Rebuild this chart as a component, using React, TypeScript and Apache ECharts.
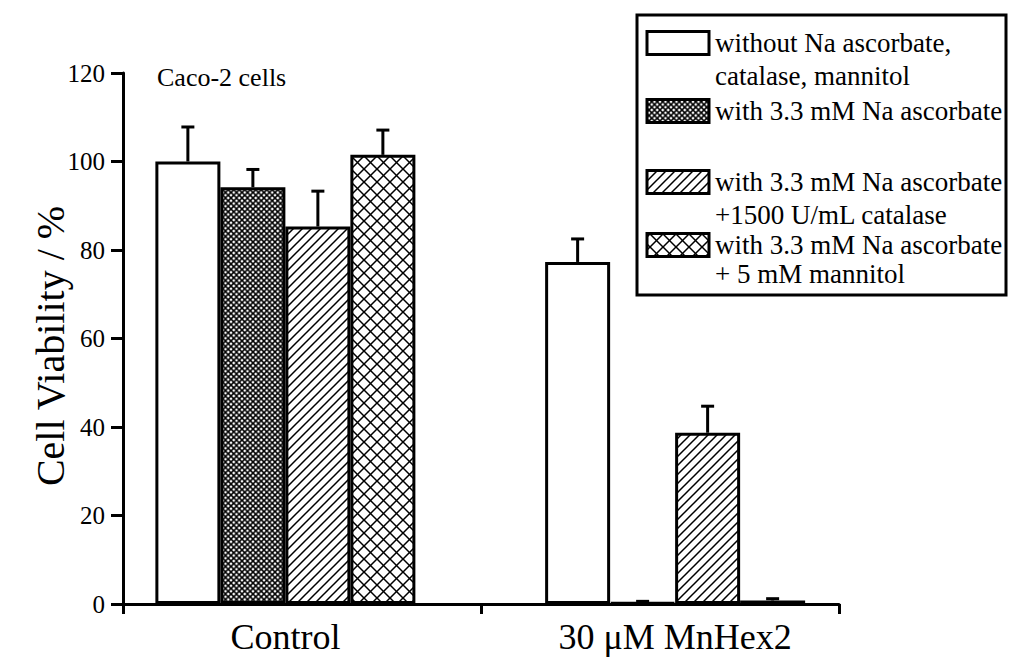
import React, { useEffect, useRef } from "react";
import * as echarts from "echarts";

// ---------- data ----------
const categories = ["Control", "30 μM MnHex2"];
const seriesNames = [
  "without Na ascorbate, catalase, mannitol",
  "with 3.3 mM Na ascorbate",
  "with 3.3 mM Na ascorbate +1500 U/mL catalase",
  "with 3.3 mM Na ascorbate + 5 mM mannitol",
];
const legendLines = [
  ["without Na ascorbate,", "catalase, mannitol"],
  ["with 3.3 mM Na ascorbate"],
  ["with 3.3 mM Na ascorbate", "+1500 U/mL catalase"],
  ["with 3.3 mM Na ascorbate", "+ 5 mM mannitol"],
];
const noAdditive = [100, 77.3];
const ascorbate = [94.2, 0.3];
const ascorbateCatalase = [85.3, 38.7];
const ascorbateMannitol = [101.5, 0.8];
const errNoAdditive = [7.8, 5.2];
const errAscorbate = [4.0, 0.3];
const errCatalase = [8.0, 6.0];
const errMannitol = [5.6, 0.4];
const yMin = 0;
const yMax = 120;
const yInterval = 20;
const annotation = "Caco-2 cells";
const yName = "Cell Viability / %";

const values = [noAdditive, ascorbate, ascorbateCatalase, ascorbateMannitol];
const errors = [errNoAdditive, errAscorbate, errCatalase, errMannitol];

// ---------- patterns ----------
function svgPattern(p: number, diag1: boolean, diag2: boolean, w: number) {
  let lines = "";
  if (diag1) {
    lines += `<line x1="0" y1="${p}" x2="${p}" y2="0"/>`;
    lines += `<line x1="-1" y1="1" x2="1" y2="-1"/>`;
    lines += `<line x1="${p - 1}" y1="${p + 1}" x2="${p + 1}" y2="${p - 1}"/>`;
  }
  if (diag2) {
    lines += `<line x1="0" y1="0" x2="${p}" y2="${p}"/>`;
    lines += `<line x1="${p - 1}" y1="-1" x2="${p + 1}" y2="1"/>`;
    lines += `<line x1="-1" y1="${p - 1}" x2="1" y2="${p + 1}"/>`;
  }
  const svg = `<svg xmlns="http://www.w3.org/2000/svg" width="${p}" height="${p}" viewBox="0 0 ${p} ${p}"><rect width="${p}" height="${p}" fill="#fff"/><g stroke="#000" stroke-width="${w}" stroke-linecap="square">${lines}</g></svg>`;
  return {
    image: "data:image/svg+xml;charset=utf-8," + encodeURIComponent(svg),
    repeat: "repeat",
    imageWidth: p,
    imageHeight: p,
  } as any;
}

const fills: any[] = [
  "#ffffff",
  svgPattern(5.5, true, true, 1.5),
  svgPattern(9, true, false, 1.5),
  svgPattern(13, true, true, 1.5),
];

const FONT = "Liberation Serif";
const BAR_W = 65;

export default function App() {
  const ref = useRef<HTMLDivElement>(null);
  useEffect(() => {
    if (!ref.current) return;
    const chart = echarts.init(ref.current, null, { renderer: "svg" });

    const barSeries = values.map((vals, k) => ({
      type: "bar",
      name: seriesNames[k],
      xAxisIndex: 1,
      yAxisIndex: 1,
      data: vals,
      barWidth: BAR_W,
      barGap: "0%",
      itemStyle: { color: fills[k], borderColor: "#000", borderWidth: 3 },
      z: 2,
    }));

    const errSeries = values.map((vals, k) => ({
      type: "custom",
      name: seriesNames[k] + " error",
      xAxisIndex: 1,
      yAxisIndex: 1,
      clip: false,
      z: 3,
      data: categories.map((_, i) => [i, vals[i], errors[k][i]]),
      encode: { x: 0, y: 1 },
      renderItem: (params: any, api: any) => {
        const ci = api.value(0);
        const v = api.value(1);
        const e = api.value(2);
        const p0 = api.coord([ci, v]);
        const p1 = api.coord([ci, v + e]);
        const cx = p0[0] + (k - 1.5) * BAR_W;
        return {
          type: "group",
          children: [
            {
              type: "line",
              shape: { x1: cx, y1: p0[1], x2: cx, y2: p1[1] },
              style: { stroke: "#000", lineWidth: 3 },
            },
            {
              type: "line",
              shape: { x1: cx - 6.5, y1: p1[1], x2: cx + 6.5, y2: p1[1] },
              style: { stroke: "#000", lineWidth: 3 },
            },
          ],
        };
      },
    }));

    const legendCenters = [43, 111, 182, 245];
    const lineOffsets = [[0, 33], [0], [0, 33], [0, 29]];
    const legendEls: any[] = [
      {
        type: "rect",
        shape: { x: 637, y: 15, width: 369, height: 280 },
        style: { fill: "#fff", stroke: "#000", lineWidth: 3 },
        z: 10,
      },
    ];
    legendLines.forEach((lines, k) => {
      const cy = legendCenters[k];
      legendEls.push({
        type: "rect",
        shape: { x: 647, y: cy - 11.5, width: 62, height: 23 },
        style: { fill: fills[k], stroke: "#000", lineWidth: 3 },
        z: 11,
      });
      lines.forEach((t, j) => {
        legendEls.push({
          type: "text",
          x: 715,
          y: cy + lineOffsets[k][j],
          style: {
            text: t,
            fontFamily: FONT,
            fontSize: 27,
            fill: "#000",
            verticalAlign: "middle",
            align: "left",
          },
          z: 11,
        });
      });
    });

    const option: any = {
      animation: false,
      backgroundColor: "#fff",
      textStyle: { fontFamily: FONT },
      grid: [
        { left: 123, right: 171, top: 73, bottom: 56 },
        { left: 90.5, right: 140, top: 73, bottom: 56 },
      ],
      xAxis: [
        {
          type: "value",
          gridIndex: 0,
          min: 0,
          max: 2,
          interval: 1,
          axisLine: { show: true, lineStyle: { color: "#000", width: 3 } },
          axisTick: { show: true, length: 10, lineStyle: { color: "#000", width: 3 } },
          axisLabel: { show: false },
          splitLine: { show: false },
        },
        {
          type: "category",
          gridIndex: 1,
          data: categories,
          axisLine: { show: false },
          axisTick: { show: false },
          axisLabel: {
            show: true,
            color: "#000",
            fontFamily: FONT,
            fontSize: 36,
            margin: 15,
          },
          splitLine: { show: false },
        },
      ],
      yAxis: [
        {
          type: "value",
          gridIndex: 0,
          min: yMin,
          max: yMax,
          interval: yInterval,
          axisLine: { show: true, lineStyle: { color: "#000", width: 3 } },
          axisTick: { show: true, length: 12, lineStyle: { color: "#000", width: 3 } },
          axisLabel: { color: "#000", fontFamily: FONT, fontSize: 25, margin: 18 },
          splitLine: { show: false },
        },
        {
          type: "value",
          gridIndex: 1,
          min: yMin,
          max: yMax,
          interval: yInterval,
          show: false,
          splitLine: { show: false },
        },
      ],
      graphic: [
        {
          type: "text",
          x: 50,
          y: 346,
          rotation: Math.PI / 2,
          style: {
            text: yName,
            fontFamily: FONT,
            fontSize: 40,
            fill: "#000",
            align: "center",
            verticalAlign: "middle",
          },
        },
        {
          type: "text",
          x: 157,
          y: 77,
          style: {
            text: annotation,
            fontFamily: FONT,
            fontSize: 26,
            fill: "#000",
            verticalAlign: "middle",
          },
        },
        ...legendEls,
      ],
      series: [...barSeries, ...errSeries],
    };
    chart.setOption(option);
    return () => chart.dispose();
  }, []);

  return (
    <div
      ref={ref}
      style={{ position: "absolute", left: 0, top: 0, width: 1010, height: 660 }}
    />
  );
}
